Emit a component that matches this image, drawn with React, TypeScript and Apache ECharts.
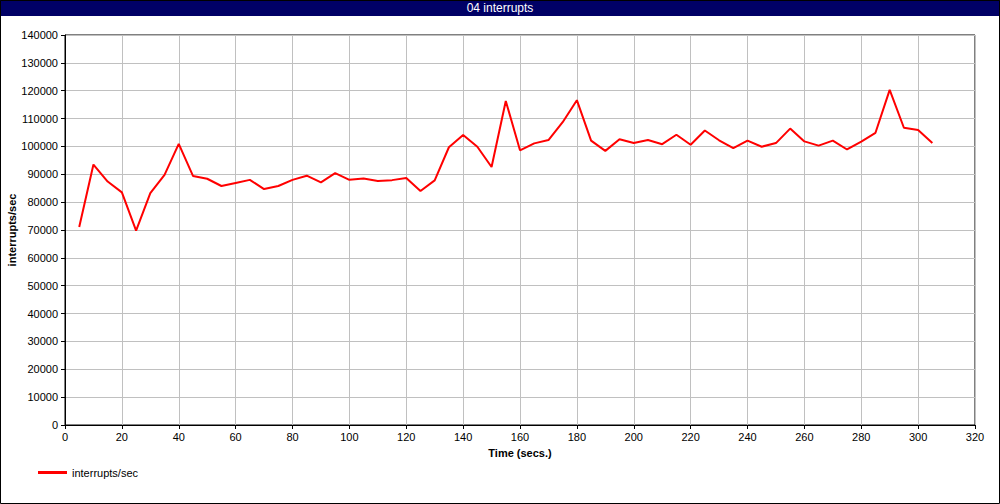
import React, { useEffect, useRef } from "react";
import * as echarts from "echarts";

const title = "04 interrupts";
const seriesName = "interrupts/sec";
const xName = "Time (secs.)";
const yName = "interrupts/sec";

const times = [
  5, 10, 15, 20, 25, 30, 35, 40, 45, 50, 55, 60, 65, 70, 75, 80, 85, 90, 95, 100,
  105, 110, 115, 120, 125, 130, 135, 140, 145, 150, 155, 160, 165, 170, 175, 180,
  185, 190, 195, 200, 205, 210, 215, 220, 225, 230, 235, 240, 245, 250, 255, 260,
  265, 270, 275, 280, 285, 290, 295, 300, 305,
];

const interrupts = [
  71100, 93500, 87400, 83500, 69800, 83200, 89800, 100900, 89400, 88400, 85800,
  86900, 88000, 84700, 85800, 88000, 89500, 87100, 90400, 88000, 88500, 87600,
  87900, 88700, 84000, 87800, 99700, 104100, 99900, 92600, 116300, 98600, 101100,
  102300, 108700, 116600, 102100, 98400, 102600, 101200, 102300, 100800, 104200,
  100600, 105700, 102200, 99400, 102100, 99900, 101200, 106400, 101800, 100300,
  102100, 98900, 101700, 104900, 120300, 106700, 105900, 101200,
];

const FONT = "'Liberation Sans', Arial, Helvetica, sans-serif";

export default function App() {
  const ref = useRef<HTMLDivElement>(null);

  useEffect(() => {
    document.body.style.margin = "0";
    if (!ref.current) return;
    const chart = echarts.init(ref.current, null, { renderer: "svg" });
    const data = times.map((t, i) => [t, interrupts[i]]);
    chart.setOption({
      animation: false,
      backgroundColor: "#ffffff",
      textStyle: { fontFamily: FONT },
      grid: {
        left: 65,
        right: 25,
        top: 35,
        bottom: 79,
        containLabel: false,
        outerBoundsMode: "none",
        show: true,
        borderColor: "#000000",
        borderWidth: 1,
        backgroundColor: "transparent",
      },
      legend: {
        left: 38,
        top: 467,
        padding: 0,
        icon: "rect",
        itemWidth: 29,
        itemHeight: 3,
        itemGap: 10,
        data: [seriesName],
        textStyle: { fontFamily: FONT, fontSize: 11, color: "#000000" },
      },
      xAxis: {
        type: "value",
        min: 0,
        max: 320,
        interval: 20,
        name: xName,
        nameLocation: "middle",
        nameGap: 22,
        nameMoveOverlap: false,
        nameTextStyle: { fontFamily: FONT, fontSize: 11, fontWeight: "bold", color: "#000000" },
        axisLine: { show: true, onZero: false, lineStyle: { color: "#000000", width: 1 } },
        axisTick: { show: true, length: 4, lineStyle: { color: "#000000" } },
        axisLabel: { fontFamily: FONT, fontSize: 11, color: "#000000", margin: 6 },
        splitLine: { show: true, lineStyle: { color: "#c0c0c0", width: 1 } },
      },
      yAxis: {
        type: "value",
        min: 0,
        max: 140000,
        interval: 10000,
        name: yName,
        nameLocation: "middle",
        nameGap: 48,
        nameMoveOverlap: false,
        nameTextStyle: { fontFamily: FONT, fontSize: 11, fontWeight: "bold", color: "#000000" },
        axisLine: { show: true, lineStyle: { color: "#000000", width: 1 } },
        axisTick: { show: true, length: 4, lineStyle: { color: "#000000" } },
        axisLabel: {
          fontFamily: FONT,
          fontSize: 11,
          color: "#000000",
          margin: 7,
          formatter: (v: number) => String(v),
        },
        splitLine: { show: true, lineStyle: { color: "#c0c0c0", width: 1 } },
      },
      graphic: [
        {
          type: "rect",
          shape: { x: 0.5, y: 0.5, width: 999, height: 503 },
          style: { fill: "none", stroke: "#000000", lineWidth: 1 },
          silent: true,
          z: 100,
        },
        {
          type: "rect",
          shape: { x: 0, y: 0, width: 1000, height: 16 },
          style: { fill: "#000066" },
          silent: true,
          z: 99,
        },
        {
          type: "text",
          x: 500,
          y: 8,
          style: {
            text: title,
            fill: "#ffffff",
            font: `12px ${FONT}`,
            align: "center",
            verticalAlign: "middle",
          },
          silent: true,
          z: 101,
        },
      ],
      series: [
        {
          name: seriesName,
          type: "line",
          data,
          showSymbol: false,
          symbol: "none",
          lineStyle: { color: "#ff0000", width: 2 },
          itemStyle: { color: "#ff0000" },
        },
      ],
    });
    return () => chart.dispose();
  }, []);

  return <div ref={ref} style={{ width: 1000, height: 504 }} />;
}
